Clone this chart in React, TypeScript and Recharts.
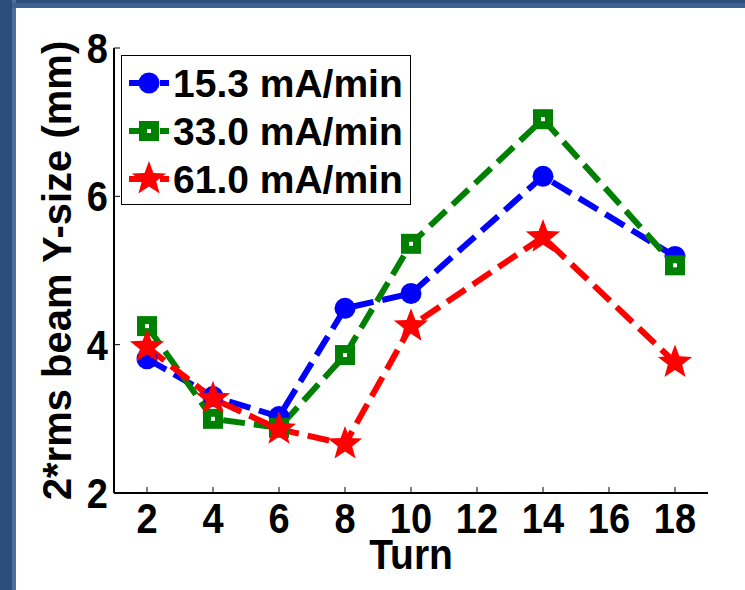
import { LineChart, Line, XAxis, YAxis } from 'recharts'

// beam size vs. turn, one list per extraction rate
const turns = [2, 4, 6, 8, 10, 14, 18]
const rate153 = [3.81, 3.3, 3.03, 4.49, 4.69, 6.27, 5.19]
const rate330 = [4.25, 3.0, 2.88, 3.86, 5.36, 7.04, 5.07]
const rate610 = [3.97, 3.27, 2.86, 2.66, 4.25, 5.45, 3.76]

const xTicks = [2, 4, 6, 8, 10, 12, 14, 16, 18]
const yTicks = [2, 4, 6, 8]

const seriesNames = ['15.3 mA/min', '33.0 mA/min', '61.0 mA/min']

const data = turns.map((t, i) => ({
  turn: t,
  r153: rate153[i],
  r330: rate330[i],
  r610: rate610[i],
}))

const series = [
  { key: 'r153', name: seriesNames[0], color: '#0000ff', shape: 'circle' },
  { key: 'r330', name: seriesNames[1], color: '#008000', shape: 'square' },
  { key: 'r610', name: seriesNames[2], color: '#ff0000', shape: 'star' },
]

const FONT = "'Liberation Sans', Arial, Helvetica, sans-serif"
const DASH = '22 9'
const STRETCH = 1.1

function starPath(cx: number, cy: number, R: number) {
  const r = R * 0.42
  let d = ''
  for (let i = 0; i < 10; i++) {
    const a = ((-90 + i * 36) * Math.PI) / 180
    const rad = i % 2 === 0 ? R : r
    d += (i === 0 ? 'M' : 'L') + (cx + rad * Math.cos(a)).toFixed(2) + ',' + (cy + rad * Math.sin(a)).toFixed(2)
  }
  return d + 'Z'
}

function Marker({ shape, cx, cy, color }: { shape: string; cx: number; cy: number; color: string }) {
  if (shape === 'circle') return <circle cx={cx} cy={cy} r={10.5} fill={color} />
  if (shape === 'square')
    return (
      <g>
        <rect x={cx - 10} y={cy - 10} width={20} height={20} fill={color} />
        <rect x={cx - 2} y={cy - 2} width={4} height={4} fill="#fff" />
      </g>
    )
  return <path d={starPath(cx, cy, 18)} fill={color} />
}

function makeDot(shape: string, color: string) {
  return (props: any) => {
    const { cx, cy, index } = props
    if (cx == null || cy == null) return <g key={`d-${shape}-${index}`} />
    return (
      <g key={`d-${shape}-${index}`}>
        <Marker shape={shape} cx={cx} cy={cy} color={color} />
      </g>
    )
  }
}

// MATLAB's Helvetica comes out a little taller than Liberation Sans, so stretch it
function XTick(props: any) {
  const { x, y, payload } = props
  return (
    <text
      transform={`translate(${x},${y}) scale(1,${STRETCH})`}
      textAnchor="middle"
      dy="0.71em"
      fontFamily={FONT}
      fontWeight="bold"
      fontSize={38}
      fill="#000"
    >
      {payload.value}
    </text>
  )
}

function YTick(props: any) {
  const { x, y, payload } = props
  return (
    <text
      transform={`translate(${x},${y}) scale(1,${STRETCH})`}
      textAnchor="end"
      dy="0.355em"
      fontFamily={FONT}
      fontWeight="bold"
      fontSize={38}
      fill="#000"
    >
      {payload.value}
    </text>
  )
}

function TurnLabel(props: any) {
  const vb = props.viewBox || { x: 114, y: 493, width: 594, height: 97 }
  const cx = vb.x + vb.width / 2
  return (
    <text
      transform={`translate(${cx},569) scale(1,${STRETCH})`}
      textAnchor="middle"
      fontFamily={FONT}
      fontWeight="bold"
      fontSize={39}
      fill="#000"
    >
      Turn
    </text>
  )
}

function LegendBox() {
  return (
    <div
      style={{
        position: 'absolute',
        left: 121,
        top: 55,
        width: 288,
        height: 148,
        border: '1.5px solid #000',
        background: '#fff',
      }}
    >
      <svg width={288} height={148}>
        {series.map((s, i) => {
          const y = 27 + i * 48
          return (
            <g key={s.key}>
              <line x1={7} x2={47} y1={y} y2={y} stroke={s.color} strokeWidth={6} strokeDasharray={DASH} />
              <Marker shape={s.shape} cx={27} cy={y} color={s.color} />
              <text x={51} y={y + 14} fontFamily={FONT} fontWeight="bold" fontSize={39} fill="#000">
                {s.name}
              </text>
            </g>
          )
        })}
      </svg>
    </div>
  )
}

export default function App() {
  const axisLine = { stroke: '#000', strokeWidth: 2 }
  const tickLine = { stroke: '#000', strokeWidth: 1 }

  return (
    <div style={{ position: 'absolute', left: 0, top: 0, width: 745, height: 590, background: '#2a4d7e' }}>
      <div style={{ position: 'absolute', left: 12, top: 0, width: 4, height: 590, background: '#4a6f9f' }} />
      <div style={{ position: 'absolute', left: 12, top: 3, width: 733, height: 5, background: '#3b6192' }} />
      <div style={{ position: 'absolute', left: 16, top: 8, width: 729, height: 582, background: '#fff' }} />
      <div style={{ position: 'absolute', left: 0, top: 0 }}>
        <LineChart width={745} height={590} data={data} margin={{ top: 48, right: 37, bottom: 0, left: 0 }}>
          <XAxis
            xAxisId="b"
            dataKey="turn"
            type="number"
            domain={[1, 19]}
            ticks={xTicks}
            interval={0}
            height={97}
            tickSize={-6}
            tickMargin={16}
            axisLine={axisLine}
            tickLine={tickLine}
            tick={<XTick />}
            label={<TurnLabel />}
          />
          <XAxis
            xAxisId="t"
            orientation="top"
            dataKey="turn"
            type="number"
            domain={[1, 19]}
            ticks={xTicks}
            interval={0}
            height={0}
            tickSize={-6}
            axisLine={axisLine}
            tickLine={tickLine}
            tick={false}
          />
          <YAxis
            yAxisId="l"
            type="number"
            domain={[2, 8]}
            ticks={yTicks}
            interval={0}
            width={114}
            tickSize={-6}
            tickMargin={12}
            axisLine={axisLine}
            tickLine={tickLine}
            tick={<YTick />}
            label={{
              value: '2*rms beam Y-size (mm)',
              angle: -90,
              position: 'center',
              style: { fontSize: 40, fontWeight: 'bold', fill: '#000', fontFamily: FONT },
            }}
          />
          <YAxis
            yAxisId="r"
            orientation="right"
            type="number"
            domain={[2, 8]}
            ticks={yTicks}
            interval={0}
            width={0}
            tickSize={-6}
            axisLine={axisLine}
            tickLine={tickLine}
            tick={false}
          />
          {series.map((s) => (
            <Line
              key={s.key}
              xAxisId="b"
              yAxisId="l"
              type="linear"
              dataKey={s.key}
              name={s.name}
              stroke={s.color}
              strokeWidth={6}
              strokeDasharray={DASH}
              dot={makeDot(s.shape, s.color)}
              activeDot={false}
              isAnimationActive={false}
            />
          ))}
        </LineChart>
      </div>
      <LegendBox />
    </div>
  )
}
